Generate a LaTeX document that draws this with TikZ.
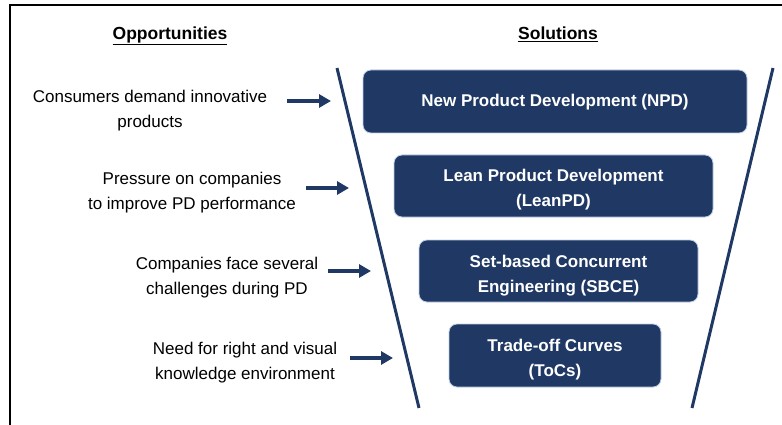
\documentclass[tikz,border=0pt]{standalone}
\usepackage{fontspec}
\setmainfont{Liberation Sans}
\usetikzlibrary{arrows.meta}
\definecolor{navy}{RGB}{31,56,100}
\definecolor{edgeblue}{RGB}{190,205,230}

\begin{document}
\begin{tikzpicture}[x=1pt,y=-1pt,
  opp node/.style={align=center,inner sep=0pt,font=\fontsize{17}{25}\selectfont},
  head node/.style={inner sep=0pt,anchor=base,font=\fontsize{17.5}{21}\selectfont\bfseries},
  sol node/.style={rectangle,rounded corners=8pt,fill=navy,draw=edgeblue,line width=0.8pt,
    text=white,align=center,inner sep=0pt,text height=43pt,text depth=1pt,
    font=\fontsize{17}{25}\selectfont\bfseries},
  funnel/.style={draw=navy,line width=3pt},
  flow/.style={draw=navy,line width=4pt,-{Triangle[length=12pt,width=13pt]}}]

  \useasboundingbox (0,0) rectangle (782,425);
  \draw[line width=1.6pt] (10,425) -- (10,5) -- (782,5);

  % headings
  \node[head node] (opp head) at (170,39.5) {\underline{Opportunities}};
  \node[head node] (sol head) at (558,39.5) {\underline{Solutions}};

  % funnel
  \coordinate (fl top) at (337,68);
  \coordinate (fl bot) at (419,408);
  \coordinate (fr top) at (773,68);
  \coordinate (fr bot) at (692,408);
  \path (fl top) edge[funnel] (fl bot)
        (fr top) edge[funnel] (fr bot);

  % solutions
  \node[sol node,minimum width=384pt,minimum height=63pt,text height=12pt] (sol1) at (555,101.5) {New Product Development (NPD)};
  \node[sol node,minimum width=319pt,minimum height=62pt] (sol2) at (553.5,186) {Lean Product Development\\(LeanPD)};
  \node[sol node,minimum width=279pt,minimum height=62pt] (sol3) at (558.5,271) {Set-based Concurrent\\Engineering (SBCE)};
  \node[sol node,minimum width=212pt,minimum height=63pt] (sol4) at (555,355.5) {Trade-off Curves\\(ToCs)};

  % opportunities
  \node[opp node] (opp1) at (150,110.5) {Consumers demand innovative\\products};
  \node[opp node] (opp2) at (192,192.5) {Pressure on companies\\to improve PD performance};
  \node[opp node] (opp3) at (227,277.5) {Companies face several\\challenges during PD};
  \node[opp node] (opp4) at (245,362.5) {Need for right and visual\\knowledge environment};

  \coordinate (s1) at (287,101);  \coordinate (t1) at (331,101);
  \coordinate (s2) at (306,188);  \coordinate (t2) at (349,188);
  \coordinate (s3) at (328,271);  \coordinate (t3) at (371,271);
  \coordinate (s4) at (350,358);  \coordinate (t4) at (393,358);

  \path
    (s1) edge[flow] (t1)
    (s2) edge[flow] (t2)
    (s3) edge[flow] (t3)
    (s4) edge[flow] (t4);

\end{tikzpicture}
\end{document}
